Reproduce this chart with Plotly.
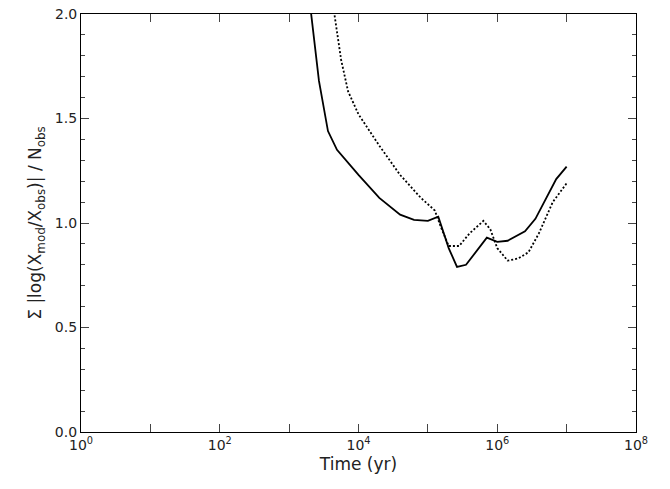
import plotly.graph_objects as go

solid_logt = [3.3, 3.43, 3.56, 3.69, 4.0, 4.3, 4.6, 4.8, 5.0, 5.15, 5.3, 5.42, 5.55, 5.85, 6.0, 6.15, 6.4, 6.55, 6.85, 7.0]
solid_y = [2.05, 1.68, 1.44, 1.35, 1.23, 1.12, 1.04, 1.015, 1.01, 1.03, 0.88, 0.79, 0.80, 0.93, 0.91, 0.915, 0.96, 1.02, 1.21, 1.27]
dot_logt = [3.63, 3.75, 3.85, 4.0, 4.3, 4.6, 4.9, 5.1, 5.2, 5.3, 5.45, 5.6, 5.8, 5.9, 6.0, 6.15, 6.3, 6.45, 6.6, 6.8, 7.0]
dot_y = [2.05, 1.78, 1.63, 1.52, 1.37, 1.23, 1.12, 1.06, 0.97, 0.89, 0.89, 0.95, 1.01, 0.97, 0.88, 0.82, 0.83, 0.86, 0.95, 1.10, 1.19]
ytick_vals = [0, 0.5, 1, 1.5, 2]
ytick_text = ["0.0", "0.5", "1.0", "1.5", "2.0"]

fig = go.Figure()
fig.add_trace(go.Scatter(x=[10**v for v in solid_logt], y=solid_y, mode="lines",
                         line=dict(color="black", width=1.8)))
fig.add_trace(go.Scatter(x=[10**v for v in dot_logt], y=dot_y, mode="lines",
                         line=dict(color="black", width=1.8, dash="2px,2px")))
tickvals = [10**i for i in range(9)]
ticktext = [f"10<sup>{i}</sup>" if i % 2 == 0 else "" for i in range(9)]
fig.update_layout(
    width=670, height=489, showlegend=False,
    plot_bgcolor="white", paper_bgcolor="white",
    margin=dict(l=73, r=42, t=6, b=65),
    font=dict(family="DejaVu Sans", size=14, color="#222"),
    xaxis=dict(type="log", range=[0, 8], tickvals=tickvals, ticktext=ticktext,
               showline=True, mirror="ticks", linecolor="black", linewidth=1.2,
               ticks="inside", ticklen=8, showgrid=False, zeroline=False,
               title=dict(text="Time (yr)", standoff=6)),
    yaxis=dict(range=[0, 2.0001], tickvals=ytick_vals[:-1], ticktext=ytick_text[:-1],
               showline=True, mirror="ticks", linecolor="black", linewidth=1.2,
               ticks="inside", ticklen=8, showgrid=False, zeroline=False,
               minor=dict(ticks="inside", ticklen=4, dtick=0.1),
               title=dict(text="Σ |log(X<sub>mod</sub>/X<sub>obs</sub>)| / N<sub>obs</sub>", standoff=8)),
)
fig.add_annotation(xref="paper", yref="y", x=0, y=ytick_vals[-1], text=ytick_text[-1],
                   showarrow=False, xanchor="right", yanchor="middle", xshift=-2,
                   font=dict(size=14, color="#222"))
fig.write_html("out.html")
